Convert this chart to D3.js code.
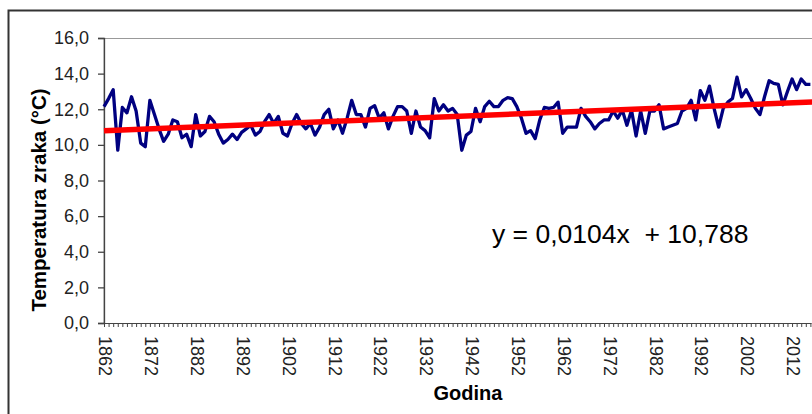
<!DOCTYPE html>
<html>
<head>
<meta charset="utf-8">
<script src="https://cdn.jsdelivr.net/npm/d3@7"></script>
<style>
  body { margin: 0; background: #fff; }
  svg { display: block; font-family: "Liberation Sans", Arial, sans-serif; }
</style>
</head>
<body>
<div id="chart"></div>
<script>
// godisnja srednja temperatura zraka, 1862 - 2016
var firstYear = 1862;
var temps = [
  12.15, 12.6, 13.1, 9.7, 12.1, 11.8, 12.7, 11.9, 10.1, 9.9,
  12.5, 11.7, 10.9, 10.2, 10.6, 11.4, 11.3, 10.4, 10.6, 9.9,
  11.7, 10.5, 10.75, 11.6, 11.3, 10.6, 10.1, 10.3, 10.6, 10.3,
  10.7, 10.9, 11.1, 10.55, 10.75, 11.3, 11.7, 11.2, 11.6, 10.65,
  10.5, 11.2, 11.7, 11.2, 10.9, 11.2, 10.55, 11.0, 11.7, 12.0,
  10.9, 11.4, 10.65, 11.5, 12.5, 11.7, 11.7, 11.0, 12.05, 12.2,
  11.5, 11.8, 10.9, 11.6, 12.15, 12.15, 11.9, 10.65, 11.9, 11.0,
  10.8, 10.4, 12.6, 11.9, 12.25, 11.9, 12.05, 11.7, 9.7, 10.55,
  10.75, 12.05, 11.3, 12.15, 12.45, 12.15, 12.15, 12.5, 12.65, 12.6,
  12.15, 11.5, 10.65, 10.8, 10.35, 11.4, 12.1, 12.05, 12.1, 12.4,
  10.65, 11.0, 11.0, 11.0, 12.05, 11.6, 11.3, 10.9, 11.2, 11.4,
  11.4, 11.9, 11.5, 11.95, 11.1, 11.95, 10.5, 11.9, 10.65, 11.9,
  11.9, 12.25, 10.9, 11.0, 11.1, 11.2, 11.9, 12.05, 12.5, 11.4,
  13.05, 12.5, 13.3, 12.05, 11.0, 12.05, 12.4, 12.6, 13.8, 12.7,
  13.1, 12.6, 12.05, 11.7, 12.7, 13.6, 13.45, 13.4, 12.25, 13.0,
  13.7, 13.1, 13.7, 13.4, 13.4
];
var years = temps.map(function(d, i) { return firstYear + i; });
var xLabelYears = [1862, 1872, 1882, 1892, 1902, 1912, 1922, 1932, 1942, 1952, 1962, 1972, 1982, 1992, 2002, 2012];
var yTicks = [0, 2, 4, 6, 8, 10, 12, 14, 16];
// linearni trend: y = a*x + b, x = redni broj godine
var slope = 0.0104;
var intercept = 10.788;

var width = 812;
var height = 414;
var svg = d3.select("#chart").append("svg").attr("width", width).attr("height", height);

// okvir grafikona
svg.append("rect")
    .attr("x", 8.5).attr("y", 10.5)
    .attr("width", 900).attr("height", 500)
    .attr("fill", "#fff")
    .attr("stroke", "#333").attr("stroke-width", 2);

var plotLeft = 104, plotTop = 38, plotBottom = 323;
var x = d3.scaleLinear()
    .domain([firstYear, years[years.length - 1]])
    .range([plotLeft, plotLeft + (years.length - 1) * 4.587]);
var y = d3.scaleLinear().domain([0, 16]).range([plotBottom, plotTop]);

// okvir podrucja crtanja
svg.append("rect")
    .attr("x", plotLeft).attr("y", plotTop + 0.5)
    .attr("width", 800).attr("height", plotBottom - plotTop)
    .attr("fill", "none")
    .attr("stroke", "#999").attr("stroke-width", 1);

var yAxis = svg.append("g")
    .attr("transform", "translate(" + plotLeft + ",0)")
    .call(d3.axisLeft(y)
      .tickValues(yTicks)
      .tickSize(6)
      .tickPadding(9)
      .tickFormat(function(d) { return d.toFixed(1).replace(".", ","); }));
yAxis.selectAll("text").attr("font-size", 18).attr("fill", "#222").attr("font-family", "Liberation Sans, Arial");
yAxis.selectAll("line,path").attr("stroke", "#444").attr("stroke-width", 1.3);

var xAxis = svg.append("g")
    .attr("transform", "translate(0," + plotBottom + ")")
    .call(d3.axisBottom(x)
      .tickValues(years)
      .tickSize(4)
      .tickSizeOuter(0)
      .tickFormat(function(d) { return xLabelYears.indexOf(d) >= 0 ? d : ""; }));
xAxis.selectAll("line,path").attr("stroke", "#444").attr("stroke-width", 1);
xAxis.selectAll("text")
    .attr("font-size", 18).attr("fill", "#222").attr("font-family", "Liberation Sans, Arial")
    .attr("transform", "rotate(90)")
    .attr("y", -1).attr("x", 13).attr("dy", "0.35em")
    .style("text-anchor", "start");

// podaci
var line = d3.line()
    .x(function(d, i) { return x(years[i]); })
    .y(function(d) { return y(d); });
svg.append("path")
    .datum(temps)
    .attr("d", line)
    .attr("fill", "none")
    .attr("stroke", "#000080")
    .attr("stroke-width", 3.3)
    .attr("stroke-linejoin", "round");

// trend
var trendYears = [years[0], years[years.length - 1] + 1];
svg.append("path")
    .datum(trendYears)
    .attr("d", d3.line()
      .x(function(d) { return x(d); })
      .y(function(d) { return y(slope * (d - firstYear + 1) + intercept); }))
    .attr("stroke", "#ff0000")
    .attr("stroke-width", 5.5)
    .attr("fill", "none");

svg.append("text")
    .attr("x", 492).attr("y", 243)
    .attr("font-size", 26.5).attr("fill", "#000")
    .attr("xml:space", "preserve")
    .text("y = 0,0104x  + 10,788");

svg.append("text")
    .attr("x", 468).attr("y", 400)
    .attr("text-anchor", "middle")
    .attr("font-size", 20).attr("font-weight", "bold")
    .text("Godina");

svg.append("text")
    .attr("transform", "translate(46,200) rotate(-90)")
    .attr("text-anchor", "middle")
    .attr("font-size", 20.5).attr("font-weight", "bold")
    .text("Temperatura zraka (°C)");
</script>
</body>
</html>
